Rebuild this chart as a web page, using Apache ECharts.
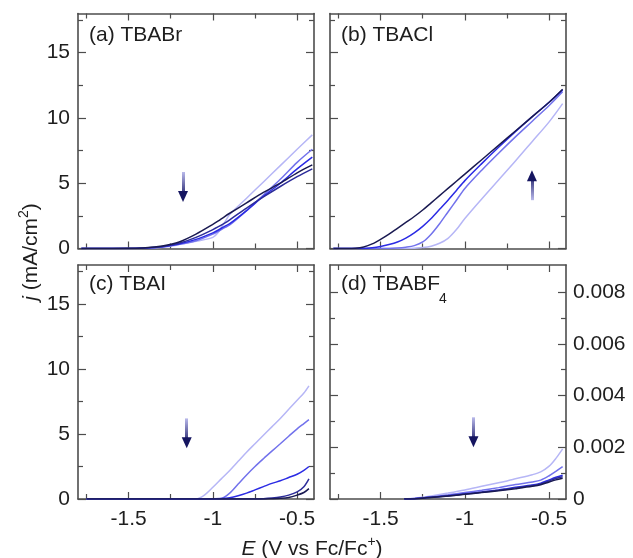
<!DOCTYPE html>
<html><head><meta charset="utf-8">
<script src="https://cdn.jsdelivr.net/npm/echarts@6/dist/echarts.min.js"></script>
<style>html,body{margin:0;padding:0;background:#fff}#c{width:633px;height:558px}</style>
</head><body><div id="c"></div>
<script>
// ---------- data ----------
const xTickLabels = [-1.5, -1, -0.5];
const xMinorTicks = [-1.75, -1.25, -0.75];
const jTickLabels = [0, 5, 10, 15];
const jMinorTicks = [2.5, 7.5, 12.5, 17.5];
const dTickLabels = [0, 0.002, 0.004, 0.006, 0.008];
const dMinorTicks = [0.001, 0.003, 0.005, 0.007];

// (a) TBABr
const aE  = [-1.78,-1.6,-1.5,-1.4,-1.3,-1.2,-1.1,-1.0,-0.97,-0.93,-0.9,-0.8,-0.7,-0.6,-0.5,-0.41];
const aJ1 = [0,0,0,0.02,0.1,0.3,0.55,0.85,1.2,2.0,2.6,3.85,5.1,6.35,7.6,8.7];
const aJ2 = [0,0,0,0.02,0.12,0.32,0.6,1.1,1.3,1.6,1.8,2.9,4.1,5.3,6.6,7.6];
const aJ3 = [0,0,0,0.03,0.13,0.35,0.7,1.2,1.4,1.7,1.9,2.9,4.0,5.0,6.1,7.0];
const aJ4 = [0,0,0,0.04,0.15,0.4,0.85,1.45,1.65,1.95,2.2,3.1,3.95,4.75,5.5,6.1];
const aJ5 = [0,0,0.01,0.05,0.2,0.5,1.1,1.85,2.1,2.45,2.7,3.5,4.3,5.0,5.8,6.4];

// (b) TBACl
const bE  = [-1.78,-1.7,-1.65,-1.6,-1.55,-1.5,-1.45,-1.4,-1.35,-1.3,-1.25,-1.2,-1.15,-1.1,-1.05,-1.0,-0.9,-0.8,-0.7,-0.6,-0.5,-0.42];
const bJ1 = [0,0,0,0,0,0,0,0,0,0.02,0.07,0.18,0.4,0.78,1.45,2.3,3.8,5.25,6.7,8.2,9.7,11.1];
const bJ2 = [0,0,0,0,0,0,0,0.03,0.1,0.22,0.5,1.1,1.9,2.8,3.7,4.6,6.0,7.3,8.55,9.75,10.95,12.0];
const bJ3 = [0,0,0,0,0.05,0.15,0.3,0.5,0.8,1.2,1.7,2.3,3.0,3.7,4.45,5.2,6.5,7.75,8.95,10.1,11.2,12.15];
const bJ4 = [0,0,0.02,0.12,0.35,0.7,1.1,1.55,2.0,2.45,2.95,3.5,4.05,4.6,5.15,5.7,6.8,7.9,9.0,10.1,11.2,12.2];

// (c) TBAI
const cE  = [-1.75,-1.5,-1.2,-1.1,-1.05,-1.0,-0.95,-0.9,-0.85,-0.8,-0.75,-0.7,-0.65,-0.6,-0.55,-0.5,-0.46,-0.43];
const cJ1 = [0,0,0,0,0.3,0.9,1.55,2.2,2.9,3.6,4.25,4.9,5.55,6.2,6.9,7.6,8.15,8.7];
const cJ2 = [0,0,0,0,0,0,0.03,0.45,1.15,1.85,2.5,3.1,3.68,4.25,4.83,5.4,5.8,6.1];
const cJ3 = [0,0,0,0,0,0.01,0.03,0.1,0.25,0.45,0.7,0.95,1.2,1.4,1.65,1.9,2.2,2.5];
const cJ4 = [0,0,0,0,0,0,0,0,0,0,0,0.02,0.07,0.15,0.3,0.55,0.95,1.55];
const cJ5 = [0,0,0,0,0,0,0,0,0,0,0,0,0.02,0.05,0.12,0.3,0.5,0.8];

// (d) TBABF4
const dE  = [-1.36,-1.3,-1.25,-1.2,-1.1,-1.0,-0.9,-0.8,-0.75,-0.7,-0.6,-0.55,-0.5,-0.46,-0.42];
const dJ1 = [0,0.00003,0.00007,0.00012,0.00023,0.00035,0.00049,0.00063,0.0007,0.00078,0.00094,0.00105,0.00127,0.00157,0.00194];
const dJ2 = [0,0.00002,0.00005,0.00008,0.00016,0.00025,0.00034,0.00044,0.0005,0.00056,0.00066,0.00073,0.0009,0.00107,0.00125];
const dJ3 = [0,0.00001,0.00004,0.00007,0.00013,0.0002,0.00027,0.00035,0.0004,0.00045,0.00054,0.00061,0.00074,0.00084,0.00092];
const dJ4 = [0,0.00001,0.00004,0.00007,0.00012,0.00019,0.00026,0.00034,0.00038,0.00043,0.00052,0.00058,0.0007,0.00079,0.00086];
const dJ5 = [0,0,0.00003,0.00006,0.00012,0.00018,0.00025,0.00032,0.00036,0.0004,0.00049,0.00055,0.00066,0.00074,0.0008];

// arrows: [E, start j, tip j]
const arrowE    = [-1.177, -0.602, -1.155, -0.949];
const arrowFrom = [5.86, 3.7, 6.2, 0.00316];
const arrowTip  = [3.57, 5.99, 3.9, 0.00200];

const panelTitles = ['(a) TBABr', '(b) TBACl', '(c) TBAI', '(d) TBABF'];

// ---------- styles ----------
const FONT = '"Liberation Sans", Arial, Helvetica, sans-serif';
const AX = '#4d4d4d';
const TXT = '#1e1e1e';
const COLORS = ['#b6b6f6', '#7272ec', '#2b2be4', '#2c2c9a', '#1a1a52'];
const bColors = ['#b6b6f6', '#7272ec', '#2b2be4', '#1a1a52'];

const grids = [
  {left: 78, top: 13.5, width: 236, height: 235},
  {left: 330, top: 13.5, width: 236, height: 235},
  {left: 78, top: 265, width: 236, height: 234},
  {left: 330, top: 265, width: 236, height: 234}
];
const yMax = [18, 18, 18, 0.00905];

const xAxes = [], yAxes = [];
function xa(g, pos, ticks, len, line, labels) {
  xAxes.push({type: 'value', gridIndex: g, position: pos, min: -1.8, max: -0.4,
    axisLine: {show: line, onZero: false, lineStyle: {color: AX, width: 1.6}},
    axisTick: {show: true, inside: true, length: len, customValues: ticks, lineStyle: {color: AX, width: 1.2}},
    axisLabel: {show: labels, customValues: xTickLabels, margin: 10, fontSize: 21, color: TXT, fontFamily: FONT},
    splitLine: {show: false}});
}
function ya(g, pos, ticks, labelsVals, len, line, labels) {
  yAxes.push({type: 'value', gridIndex: g, position: pos, min: 0, max: yMax[g],
    axisLine: {show: line, onZero: false, lineStyle: {color: AX, width: 1.6}},
    axisTick: {show: true, inside: true, length: len, customValues: ticks, lineStyle: {color: AX, width: 1.2}},
    axisLabel: {show: labels, customValues: labelsVals, margin: pos === 'right' ? 7 : 8, fontSize: 21, color: TXT, fontFamily: FONT},
    splitLine: {show: false}});
}
for (let g = 0; g < 4; g++) {
  const bottomRow = g >= 2;
  xa(g, 'bottom', xTickLabels, 7, true, bottomRow);
  xa(g, 'bottom', xMinorTicks, 5, false, false);
  xa(g, 'top', xTickLabels, 7, true, false);
  xa(g, 'top', xMinorTicks, 5, false, false);
  const maj = g === 3 ? dTickLabels : jTickLabels;
  const min = g === 3 ? dMinorTicks : jMinorTicks;
  ya(g, 'left', maj, maj, 8, true, g === 0 || g === 2);
  ya(g, 'left', min, maj, 5, false, false);
  ya(g, 'right', maj, maj, 8, true, g === 3);
  ya(g, 'right', min, maj, 5, false, false);
}

const series = [];
function addLine(g, E, J, color) {
  series.push({type: 'line', xAxisIndex: g * 4, yAxisIndex: g * 4,
    data: E.map((e, i) => [e, J[i]]), showSymbol: false, smooth: 0.3,
    lineStyle: {color: color, width: 1.5}, silent: true, animation: false, z: 2});
}
[aJ1, aJ2, aJ3, aJ4, aJ5].forEach((J, i) => addLine(0, aE, J, COLORS[i]));
[bJ1, bJ2, bJ3, bJ4].forEach((J, i) => addLine(1, bE, J, bColors[i]));
[cJ1, cJ2, cJ3, cJ4, cJ5].forEach((J, i) => addLine(2, cE, J, COLORS[i]));
[dJ1, dJ2, dJ3, dJ4, dJ5].forEach((J, i) => addLine(3, dE, J, COLORS[i]));

// arrows
for (let g = 0; g < 4; g++) {
  const up = arrowTip[g] > arrowFrom[g];
  const pxPerUnit = grids[g].height / yMax[g];
  const shaftEnd = arrowTip[g] + (up ? -1 : 1) * 6 / pxPerUnit;
  const grad = new echarts.graphic.LinearGradient(0, 0, 0, 1, up
    ? [{offset: 0, color: '#151560'}, {offset: 1, color: '#c9c9f8'}]
    : [{offset: 0, color: '#c9c9f8'}, {offset: 1, color: '#151560'}]);
  series.push({type: 'line', xAxisIndex: g * 4, yAxisIndex: g * 4, data: [], silent: true, animation: false,
    markLine: {silent: true, symbol: ['none', 'none'], animation: false,
      lineStyle: {color: grad, width: 3, type: 'solid'}, label: {show: false},
      data: [[{coord: [arrowE[g], arrowFrom[g]]}, {coord: [arrowE[g], shaftEnd]}]]},
    markPoint: {silent: true, animation: false,
      data: [{coord: [arrowE[g], arrowTip[g]], symbol: 'triangle', symbolSize: [10, 11],
        symbolRotate: up ? 0 : 180, symbolOffset: [0, up ? 5.5 : -5.5],
        itemStyle: {color: '#151560'}, label: {show: false}}]}});
}

const titleStyle = {fontSize: 21, fontWeight: 'normal', color: TXT, fontFamily: FONT};
const titles = [
  {text: panelTitles[0], left: 89, top: 25, padding: 0, textStyle: titleStyle},
  {text: panelTitles[1], left: 341, top: 25, padding: 0, textStyle: titleStyle},
  {text: panelTitles[2], left: 89, top: 274, padding: 0, textStyle: titleStyle},
  {text: panelTitles[3], left: 341, top: 274, padding: 0, textStyle: titleStyle},
  {text: '4', left: 439, top: 292, padding: 0, textStyle: {fontSize: 14, fontWeight: 'normal', color: TXT, fontFamily: FONT}}
];

const chart = echarts.init(document.getElementById('c'), null, {renderer: 'canvas'});
chart.setOption({
  animation: false,
  backgroundColor: '#ffffff',
  title: titles,
  grid: grids,
  xAxis: xAxes,
  yAxis: yAxes,
  series: series,
  graphic: [
    {type: 'text', x: 31, y: 252, rotation: Math.PI / 2,
      style: {text: '{i|j} (mA/cm{s|2})', align: 'center', verticalAlign: 'middle',
        fill: TXT, font: '21px ' + FONT,
        rich: {i: {fontStyle: 'italic', fontSize: 21, fontFamily: FONT, fill: TXT, lineHeight: 28},
               s: {fontSize: 14, fontFamily: FONT, fill: TXT, verticalAlign: 'top', lineHeight: 28}}}},
    {type: 'text', x: 312, y: 549,
      style: {text: '{i|E} (V vs Fc/Fc{s|+})', align: 'center', verticalAlign: 'middle',
        fill: TXT, font: '21px ' + FONT,
        rich: {i: {fontStyle: 'italic', fontSize: 21, fontFamily: FONT, fill: TXT, lineHeight: 28},
               s: {fontSize: 14, fontFamily: FONT, fill: TXT, verticalAlign: 'top', lineHeight: 28}}}}
  ]
});
</script></body></html>
